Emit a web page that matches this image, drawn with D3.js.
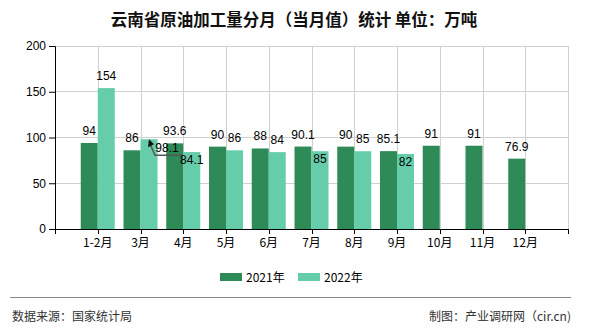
<!DOCTYPE html>
<html><head><meta charset="utf-8">
<script src="https://cdn.jsdelivr.net/npm/d3@7/dist/d3.min.js"></script>
<style>
body{margin:0;background:#fff;}
svg{display:block;font-family:"Noto Sans CJK SC","Liberation Sans",sans-serif;}
</style></head>
<body><svg id="c" width="590" height="330"></svg>
<script>
const categories = ["1-2月","3月","4月","5月","6月","7月","8月","9月","10月","11月","12月"];
const values2021 = [94, 86, 93.6, 90, 88, 90.1, 90, 85.1, 91, 91, 76.9];
const values2022 = [154, 98.1, 84.1, 86, 84, 85, 85, 82, null, null, null];
const labels2022Mode = ["top","leader","inside","top","top","inside","top","inside",null,null,null];
const yTicks = [0, 50, 100, 150, 200];
const seriesNames = ["2021年","2022年"];
const colors = ["#2E8B57","#66CDAA"];

const svg = d3.select("#c");
const L = 55, R = 568, T = 46, B = 229;
const step = (R - L) / (categories.length + 1);
const x = d3.scalePoint().domain(categories).range([L + step, R - step]);
const y = d3.scaleLinear().domain([0, 200]).range([B, T]);
const bw = 17;

// title
svg.append("text").attr("x", 294).attr("y", 26).attr("text-anchor","middle")
  .attr("font-size", 16.5).attr("font-weight","bold").attr("fill","#111")
  .text("云南省原油加工量分月（当月值）统计 单位：万吨");

// grid
const g = svg.append("g");
g.selectAll(".hg").data(yTicks.filter(d=>d>0)).join("line")
  .attr("x1", L).attr("x2", R).attr("y1", d=>y(d)).attr("y2", d=>y(d))
  .attr("stroke","#d0d0d0").attr("stroke-width",1).attr("shape-rendering","crispEdges");
g.selectAll(".vg").data(categories).join("line")
  .attr("x1", d=>Math.round(x(d))+0.5).attr("x2", d=>Math.round(x(d))+0.5).attr("y1", T).attr("y2", B)
  .attr("stroke","#d0d0d0").attr("stroke-width",1);
g.append("line").attr("x1", R+0.5).attr("x2", R+0.5).attr("y1", T).attr("y2", B)
  .attr("stroke","#d0d0d0");

// bars
const data21 = categories.map((c,i)=>({c, v: values2021[i]}));
const data22 = categories.map((c,i)=>({c, v: values2022[i], m: labels2022Mode[i]})).filter(d=>d.v!=null);
svg.append("g").selectAll("rect").data(data21).join("rect")
  .attr("x", d=>x(d.c)-bw).attr("width", bw).attr("y", d=>y(d.v)).attr("height", d=>B-y(d.v))
  .attr("fill", colors[0]);
svg.append("g").selectAll("rect").data(data22).join("rect")
  .attr("x", d=>x(d.c)).attr("width", bw).attr("y", d=>y(d.v)).attr("height", d=>B-y(d.v))
  .attr("fill", colors[1]);

// axes
const yAxis = d3.axisLeft(y).tickValues(yTicks).tickSize(6).tickPadding(3);
const ya = svg.append("g").attr("transform",`translate(${L},0)`).call(yAxis);
ya.selectAll("text").attr("font-size",12).attr("font-family","Liberation Sans, sans-serif").attr("fill","#000");
ya.select(".domain").attr("stroke","#000");

const xa = svg.append("g").attr("transform",`translate(0,${B})`);
xa.append("line").attr("x1",L).attr("x2",R).attr("y1",0.5).attr("y2",0.5).attr("stroke","#000");
const xt = [L, ...categories.map(c=>x(c)), R];
xa.selectAll(".tk").data(xt).join("line")
  .attr("x1", d=>Math.round(d)+0.5).attr("x2", d=>Math.round(d)+0.5).attr("y1",0).attr("y2",5).attr("stroke","#000");
xa.selectAll(".lb").data(categories).join("text")
  .attr("x", d=>x(d)).attr("y", 18).attr("text-anchor","middle")
  .attr("font-size",12).attr("fill","#000").text(d=>d);

// labels
const lf = "Liberation Sans, sans-serif";
svg.append("g").selectAll("text").data(data21).join("text")
  .attr("x", d=>x(d.c)-bw/2).attr("y", d=>y(d.v)-8).attr("text-anchor","middle")
  .attr("font-size",12).attr("font-family",lf).attr("fill","#000").text(d=>d.v);
const l22 = svg.append("g");
data22.forEach(d=>{
  const cx = x(d.c)+bw/2, ty = y(d.v);
  if (d.m === "top") {
    l22.append("text").attr("x",cx).attr("y",ty-8).attr("text-anchor","middle")
      .attr("font-size",12).attr("font-family",lf).text(d.v);
  } else if (d.m === "inside") {
    l22.append("text").attr("x",cx).attr("y",ty+12).attr("text-anchor","middle")
      .attr("font-size",12).attr("font-family",lf).text(d.v);
  } else if (d.m === "leader") {
    l22.append("polyline")
      .attr("points", `${cx},${ty+2} ${cx+6},${ty+16} ${cx+34},${ty+16}`)
      .attr("fill","none").attr("stroke","#555").attr("stroke-width",1.5);
    l22.append("path")
      .attr("d", `M${cx},${ty} l-1,8 l6,-3 z`).attr("fill","#111");
    l22.append("text").attr("x",cx+18).attr("y",ty+13).attr("text-anchor","middle")
      .attr("font-size",12).attr("font-family",lf).text(d.v);
  }
});

// legend
const lg = svg.append("g");
const lx = [220, 298];
seriesNames.forEach((n,i)=>{
  lg.append("rect").attr("x",lx[i]).attr("y",273).attr("width",22).attr("height",8).attr("fill",colors[i]);
  lg.append("text").attr("x",lx[i]+26).attr("y",282).attr("font-size",12).attr("fill","#000").text(n);
});

// footer
svg.append("line").attr("x1",10).attr("x2",571).attr("y1",297.5).attr("y2",297.5).attr("stroke","#888").attr("stroke-width",1);
svg.append("text").attr("x",12).attr("y",321).attr("font-size",12).attr("fill","#333").text("数据来源：国家统计局");
svg.append("text").attr("x",571).attr("y",321).attr("text-anchor","end").attr("font-size",12).attr("fill","#333").text("制图：产业调研网（cir.cn)");
</script></body></html>
